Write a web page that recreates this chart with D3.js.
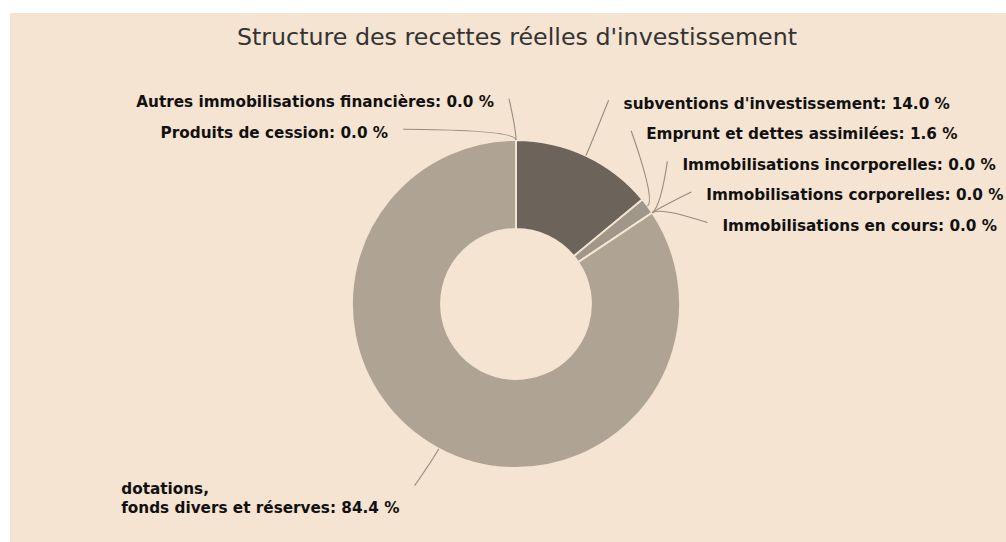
<!DOCTYPE html>
<html><head><meta charset="utf-8">
<script src="https://cdn.jsdelivr.net/npm/d3@7"></script>
<style>html,body{margin:0;padding:0;background:#fff;} svg{display:block;}</style>
</head><body>
<svg id="chart" width="1006" height="542"></svg>
<script>
// ---- data ----
const chartTitle = "Structure des recettes réelles d'investissement";
const categories = [
  "subventions d'investissement",
  "Emprunt et dettes assimilées",
  "Immobilisations incorporelles",
  "Immobilisations corporelles",
  "Immobilisations en cours",
  "dotations,\nfonds divers et réserves",
  "Produits de cession",
  "Autres immobilisations financières"
];
const values = [14.0, 1.6, 0.0, 0.0, 0.0, 84.4, 0.0, 0.0];
const sliceColors = ["#6c645a", "#a0978a", "#8c8377", "#8c8377", "#8c8377", "#afa493", "#8c8377", "#8c8377"];

// ---- layout ----
const W = 1006, H = 542;
const bgColor = "#f5e4d2";
const cx = 516, cy = 304, rOuter = 164, rInner = 75;
const labelRadius = 220, slot = 30.6, lineH = 19, minLabelY = 101.7, maxLabelY = 520;
const lineLen = 37, lineLen2 = 7, lineCircle = 208, gap = 15;
const fontLabel = "bold 15.25px 'DejaVu Sans', sans-serif";

const svg = d3.select("#chart");
svg.append("rect").attr("x", 10).attr("y", 13).attr("width", W - 10).attr("height", H - 13).attr("fill", bgColor);

svg.append("text")
  .attr("x", 517).attr("y", 45)
  .attr("text-anchor", "middle")
  .style("font", "23.75px 'DejaVu Sans', sans-serif")
  .attr("fill", "#333")
  .text(chartTitle);

const data = categories.map((c, i) => ({ name: c, value: values[i], color: sliceColors[i], i }));
const pie = d3.pie().sort(null).value(d => d.value);
const arcs = pie(data);
const arc = d3.arc().innerRadius(rInner).outerRadius(rOuter);

const g = svg.append("g").attr("transform", `translate(${cx},${cy})`);
g.selectAll("path.slice").data(arcs).join("path")
  .attr("class", "slice")
  .attr("d", arc)
  .attr("fill", d => d.data.color)
  .attr("stroke", bgColor)
  .attr("stroke-width", 1.8)
  .attr("stroke-linejoin", "round");

// ---- labels ----
const fmt = d3.format(".1f");
const items = arcs.map(a => {
  const mid = (a.startAngle + a.endAngle) / 2;
  const lines = a.data.name.split("\n");
  lines[lines.length - 1] += ": " + fmt(a.data.value) + " %";
  const side = mid > Math.PI ? -1 : 1;
  return { a, mid, lines, side, idx: a.data.i,
    natural: cy - labelRadius * Math.cos(mid),
    h: slot + (lines.length - 1) * lineH };
});

function layoutSide(list) {
  const clusters = list.map(it => ({ items: [it] }));
  function place(c) {
    let off = 0; const offs = [];
    c.items.forEach((it, k) => { if (k > 0) off += (c.items[k - 1].h + it.h) / 2; offs.push(off); });
    let y0 = d3.mean(c.items, (it, k) => it.natural - offs[k]);
    const total = offs[offs.length - 1];
    y0 = Math.max(minLabelY, Math.min(maxLabelY - total, y0));
    c.items.forEach((it, k) => it.y = y0 + offs[k]);
    c.top = y0 - c.items[0].h / 2;
    c.bottom = y0 + total + c.items[c.items.length - 1].h / 2;
  }
  clusters.forEach(place);
  let merged = true;
  while (merged) {
    merged = false;
    for (let k = 0; k < clusters.length - 1; k++) {
      if (clusters[k].bottom > clusters[k + 1].top + 0.01) {
        clusters[k].items = clusters[k].items.concat(clusters[k + 1].items);
        clusters.splice(k + 1, 1);
        place(clusters[k]);
        merged = true;
        break;
      }
    }
  }
}
const right = items.filter(d => d.side > 0).sort((p, q) => p.natural - q.natural || p.idx - q.idx);
const left = items.filter(d => d.side < 0).sort((p, q) => p.natural - q.natural || q.idx - p.idx);
layoutSide(right);
layoutSide(left);

items.forEach(it => {
  const firstY = it.y - (it.lines.length - 1) * lineH / 2;
  it.firstY = firstY;
  const ly = firstY - 3;
  const dy = Math.abs(ly - cy);
  const dx = dy < rOuter + lineLen
    ? Math.sqrt(lineCircle * lineCircle - dy * dy)
    : (rOuter + lineLen) * Math.abs(Math.sin(it.mid)) + lineLen2;
  it.p0 = [cx + rOuter * Math.sin(it.mid), cy - rOuter * Math.cos(it.mid)];
  it.p1 = [cx + (rOuter + 10) * Math.sin(it.mid), cy - (rOuter + 10) * Math.cos(it.mid)];
  it.p2 = [cx + it.side * dx, ly];
});

const conn = svg.append("g");
conn.selectAll("path").data(items).join("path")
  .attr("d", d => `M${d.p0[0]},${d.p0[1]} Q${d.p1[0]},${d.p1[1]} ${d.p2[0]},${d.p2[1]}`)
  .attr("fill", "none")
  .attr("stroke", "#958c80")
  .attr("stroke-width", 1.1);

const lbl = svg.append("g");
items.forEach(it => {
  const t = lbl.append("text").style("font", fontLabel).attr("fill", "#111");
  const spans = it.lines.map((ln, k) =>
    t.append("tspan").attr("y", it.firstY + k * lineH + 5.4).text(ln));
  let x;
  if (it.side > 0) x = it.p2[0] + gap;
  else {
    const maxW = d3.max(spans, s => s.node().getComputedTextLength());
    x = it.p2[0] - gap - maxW;
  }
  spans.forEach(s => s.attr("x", x));
});
</script>
</body></html>
